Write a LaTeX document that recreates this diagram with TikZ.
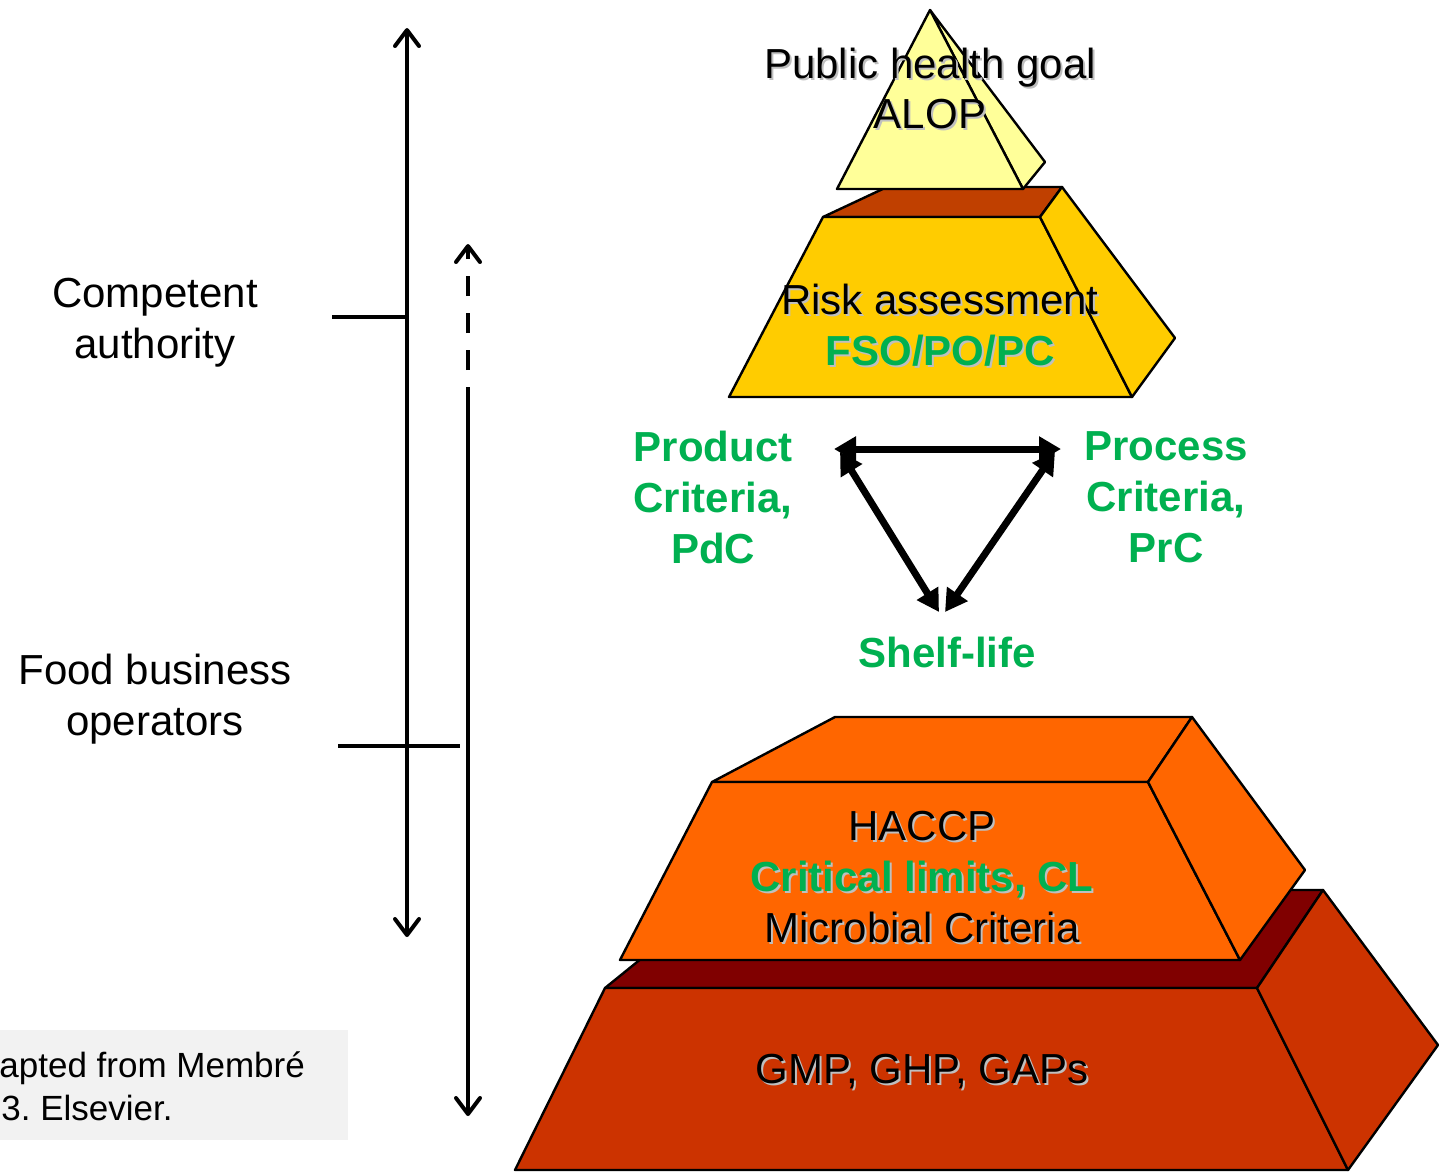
\documentclass[tikz,border=0pt]{standalone}
\usepackage{fontspec}
\setmainfont{Liberation Sans}
\frenchspacing
\usetikzlibrary{arrows.meta}
\definecolor{grn}{HTML}{00B050}
\definecolor{pale}{HTML}{FFFF99}
\definecolor{gold}{HTML}{FFCC00}
\definecolor{rust}{HTML}{C04000}
\definecolor{orng}{HTML}{FF6600}
\definecolor{brick}{HTML}{CC3300}
\definecolor{maroon}{HTML}{800000}
\newcommand\kage[4][black]{%影付きの文字
  \node[lbl,text=black!25,xshift=1pt,yshift=-1pt] (#3s) at #2 {#4};
  \node[lbl,text=#1] (#3) at #2 {#4};}

\begin{document}
\begin{tikzpicture}[x=0.5pt,y=-0.5pt,
  blk/.style={draw=black,line width=1.2pt,line join=round},
  lbl/.style={inner sep=0pt,anchor=base,font=\fontsize{21}{25}\selectfont},
  grp/.style={inner sep=0pt,align=center,font=\fontsize{21}{25.5}\selectfont},
  crit/.style={grp,text=grn,font=\fontsize{21}{25.5}\selectfont\bfseries},
  thin/.style={line width=2pt},
  fat/.style={line width=3.5pt,{Triangle[length=11pt,width=12pt]}-{Triangle[length=11pt,width=12pt]}},
  barb/.tip={Straight Barb[length=8pt,width=12pt,round]}]
\useasboundingbox (0,0) rectangle (1441,1174);%枠
\fill[black!5] (0,1030) rectangle (348,1140);%出典
\node[lbl,anchor=base west,font=\fontsize{17.5}{22}\selectfont] (src1) at (-1,1077) {apted from Membré};
\node[lbl,anchor=base west,font=\fontsize{17.5}{22}\selectfont] (src2) at (1,1120) {3. Elsevier.};
% 下の段
\filldraw[blk,fill=maroon] (605,988)--(726,890)--(1323,890)--(1257,988)--cycle;
\filldraw[blk,fill=brick] (605,988)--(1257,988)--(1348,1170)--(515,1170)--cycle;
\filldraw[blk,fill=brick] (1257,988)--(1323,890)--(1438,1045)--(1348,1170)--cycle;
\kage{(922,1083)}{gmp}{GMP, GHP, GAPs}
% HACCP
\filldraw[blk,fill=orng] (712,782)--(835,717)--(1192,717)--(1148,782)--cycle;
\filldraw[blk,fill=orng] (712,782)--(1148,782)--(1240,960)--(620,960)--cycle;
\filldraw[blk,fill=orng] (1148,782)--(1192,717)--(1305,870)--(1240,960)--cycle;
\kage{(922,840)}{haccp}{HACCP}
\kage[grn]{(922,891)}{cl}{\bfseries Critical limits, CL}
\kage{(922,942)}{mc}{Microbial Criteria}
% リスク評価
\filldraw[blk,fill=rust] (823,217)--(887,187)--(1062,187)--(1040,217)--cycle;
\filldraw[blk,fill=gold] (823,217)--(1040,217)--(1132,397)--(729,397)--cycle;
\filldraw[blk,fill=gold] (1040,217)--(1062,187)--(1175,338)--(1132,397)--cycle;
% 頂点
\filldraw[blk,fill=pale] (930,10)--(1045,162)--(1023,189)--cycle;
\filldraw[blk,fill=pale] (930,10)--(1023,189)--(837,189)--cycle;
\kage{(930,78)}{goal}{Public health goal}
\kage{(930,128)}{alop}{ALOP}
\kage{(940,314)}{risk}{Risk assessment}
\kage[grn]{(940,365)}{fso}{\bfseries FSO/PO/PC}
% 三角の矢印
\node[crit] (pdc) at (713,497) {Product\\Criteria,\\PdC};
\node[crit] (prc) at (1166,497) {Process\\Criteria,\\PrC};
\node[lbl,text=grn,font=\fontsize{21}{25}\selectfont\bfseries] (shelf) at (947,667) {Shelf-life};
\coordinate (tl) at (834,449);
\coordinate (tr) at (1061,449);
\coordinate (tl2) at (840,452);
\coordinate (tr2) at (1055,452);
\coordinate (bl) at (939,612);
\coordinate (br) at (945,612);
\draw[fat] (tl)--(tr);
\draw[fat] (tl2)--(bl);
\draw[fat] (tr2)--(br);
% 左側
\node[grp] (ca) at (155,323) {Competent\\authority};
\node[grp] (fbo) at (155,699) {Food business\\operators};
\coordinate (caT) at (407,28);
\coordinate (caB) at (407,937);
\coordinate (t1a) at (332,317);
\coordinate (t1b) at (407,317);
\coordinate (t2a) at (338,746);
\coordinate (t2b) at (460,746);
\coordinate (fT) at (468,244);
\coordinate (fM) at (468,387);
\coordinate (fB) at (468,1116);
\draw[thin,barb-barb] (caB)--(caT);
\draw[thin] (t1a)--(t1b);
\draw[thin] (t2a)--(t2b);
\draw[thin,-barb,dash pattern=on 10pt off 8.5pt,dash phase=10pt] (fM)--(fT);
\draw[thin,-barb] (fM)--(fB);
\end{tikzpicture}
\end{document}
